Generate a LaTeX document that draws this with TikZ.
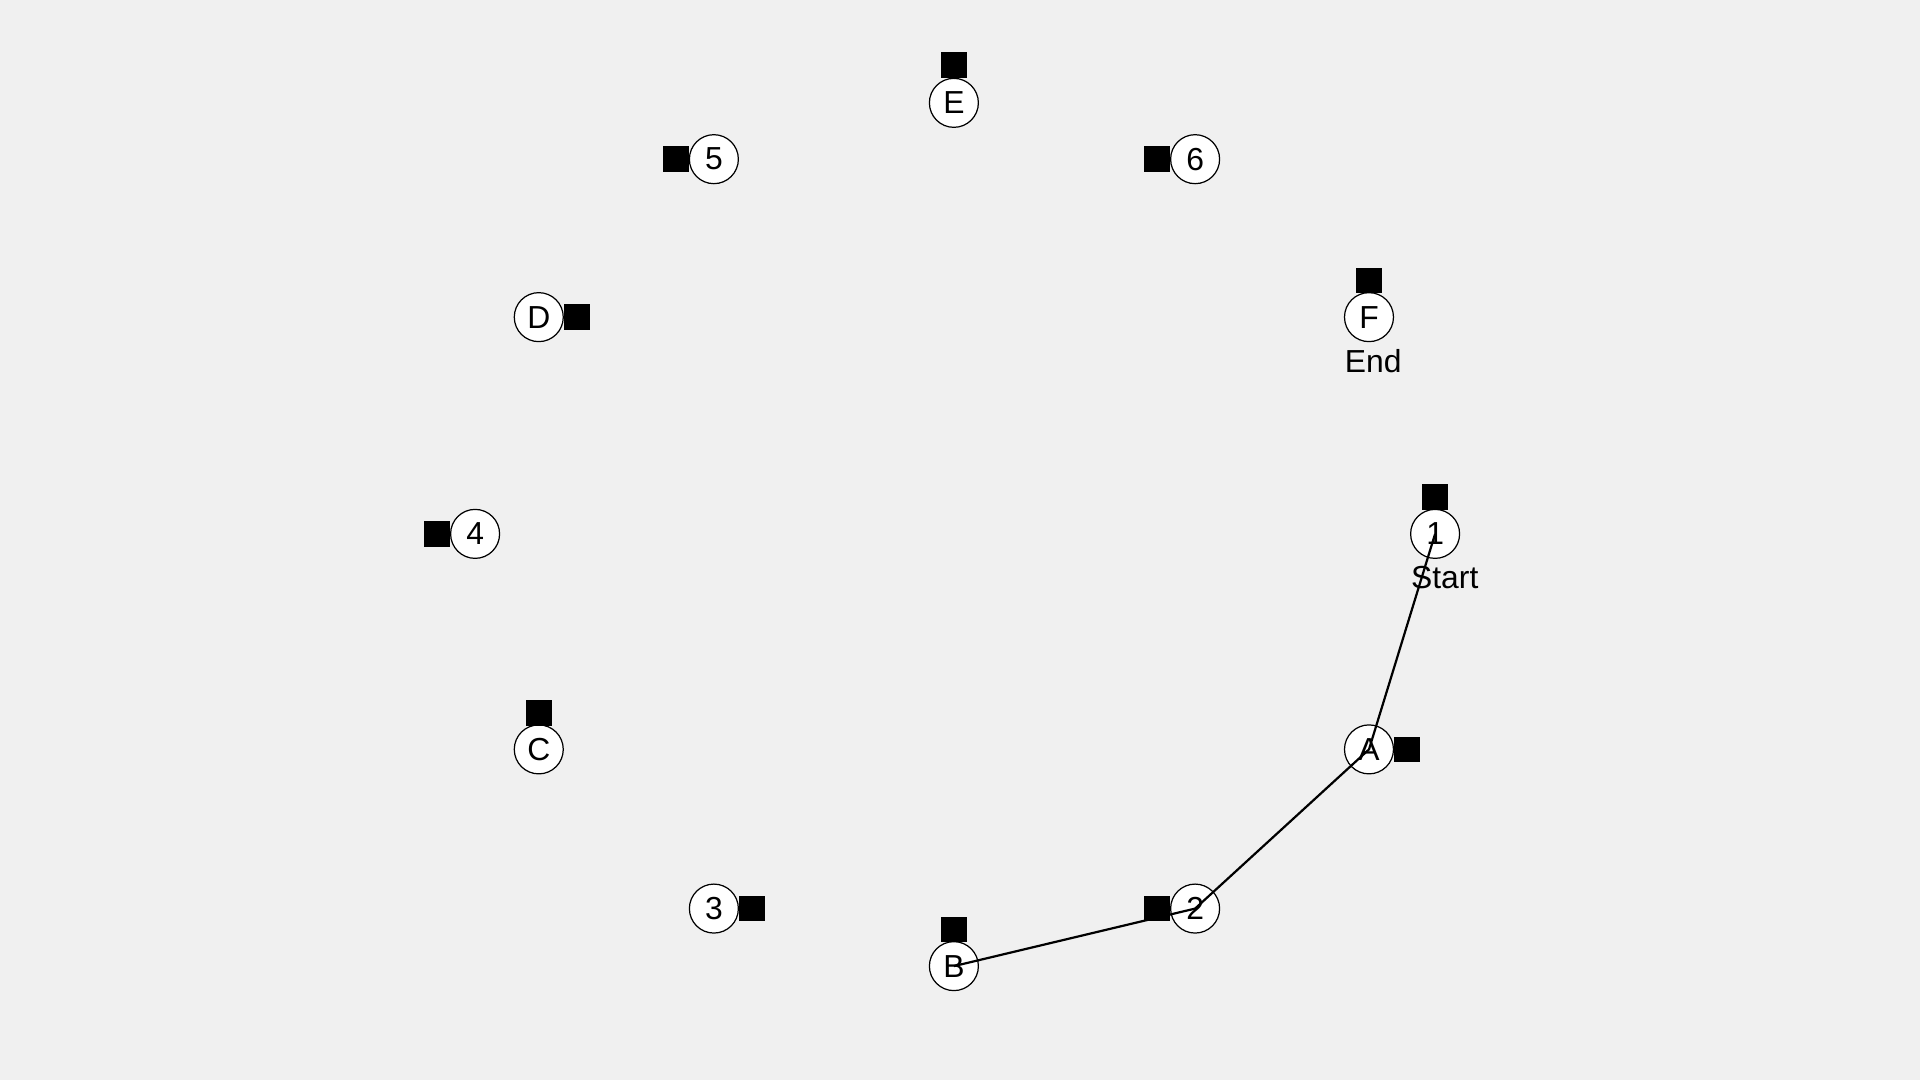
\documentclass[tikz,border=0pt]{standalone}
\usepackage{fontspec}
\setmainfont{Liberation Sans}
\definecolor{bgc}{HTML}{F0F0F0}
\tikzset{
  vert/.style={circle, draw=black, fill=white, line width=0.5pt, minimum size=20pt, inner sep=0pt, font=\fontsize{13}{15}\selectfont},
  sqr/.style={rectangle, fill=black, minimum size=10.5pt, inner sep=0pt},
  lbl/.style={anchor=west, inner sep=0pt, font=\fontsize{13}{15}\selectfont},
  conn/.style={draw=black, line width=0.9pt, line join=round}
}
\begin{document}
\begin{tikzpicture}[x=0.5pt,y=-0.5pt]
\fill[bgc] (0,0) rectangle (1568,882);
\useasboundingbox (0,0) rectangle (1568,882);
% vertices
\node[vert] (nE) at (779,84) {E};
\node[vert] (n5) at (583,130) {5};
\node[vert] (n6) at (976,130) {6};
\node[vert] (nD) at (440,259) {D};
\node[vert] (nF) at (1118,259) {F};
\node[vert] (n4) at (388,436) {4};
\node[vert] (n1) at (1172,436) {1};
\node[vert] (nC) at (440,612) {C};
\node[vert] (nA) at (1118,612) {A};
\node[vert] (n3) at (583,742) {3};
\node[vert] (n2) at (976,742) {2};
\node[vert] (nB) at (779,789) {B};
% squares
\node[sqr] (sE) at (779,53) {};
\node[sqr] (s5) at (552,130) {};
\node[sqr] (s6) at (945,130) {};
\node[sqr] (sD) at (471,259) {};
\node[sqr] (sF) at (1118,229) {};
\node[sqr] (s4) at (357,436) {};
\node[sqr] (s1) at (1172,406) {};
\node[sqr] (sC) at (440,582) {};
\node[sqr] (sA) at (1149,612) {};
\node[sqr] (s3) at (614,742) {};
\node[sqr] (s2) at (945,742) {};
\node[sqr] (sB) at (779,759) {};
% labels
\node[lbl] (lStart) at (1152,472) {Start};
\node[lbl] (lEnd) at (1098,295) {End};
% path
\draw[conn] (n1.center) -- (nA.center) -- (n2.center) -- (nB.center);
\end{tikzpicture}
\end{document}
